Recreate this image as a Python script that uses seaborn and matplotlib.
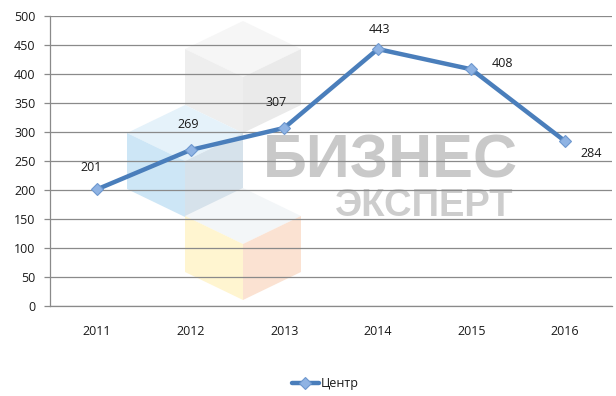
import matplotlib
matplotlib.use("Agg")
import matplotlib.pyplot as plt
import seaborn as sns
import pandas as pd
from matplotlib.patches import Polygon

# ---- data ----
years = ["2011", "2012", "2013", "2014", "2015", "2016"]
values = [201, 269, 307, 443, 408, 284]
series_name = "Центр"
y_ticks = [0, 50, 100, 150, 200, 250, 300, 350, 400, 450, 500]

# label offsets (points) per data label, as positioned in the reference
label_offsets = [(-4, 16), (-2, 18), (-6, 18), (1, 14), (22, 4), (19, -9)]

W, H = 616, 396
sns.set_theme(style="white")
plt.rcParams["font.family"] = ["Open Sans", "DejaVu Sans"]

fig = plt.figure(figsize=(W / 100, H / 100), dpi=100)
fig.patch.set_facecolor("white")
ax = fig.add_axes([50 / W, (H - 306) / H, (612 - 50) / W, (306 - 16) / H])
ax.set_facecolor("none")
ax.set_zorder(1)


# ---- watermark (background decoration, figure pixel coords) ----
def px(x, y):
    return (x / W, (H - y) / H)


def cube(cx, cy, top_c, left_c, right_c):
    hw, r, e = 58, 56, 28
    T = px(cx, cy - r)
    UR = px(cx + hw, cy - e)
    LR = px(cx + hw, cy + e)
    B = px(cx, cy + r)
    LL = px(cx - hw, cy + e)
    UL = px(cx - hw, cy - e)
    C = px(cx, cy)
    for pts, col in [([T, UR, C, UL], top_c), ([UL, C, B, LL], left_c), ([C, UR, LR, B], right_c)]:
        fig.patches.append(Polygon(pts, closed=True, transform=fig.transFigure,
                                   facecolor=col, edgecolor="none", zorder=-2))


cube(243, 77, "#f6f6f6", "#eeeeee", "#eaeaea")
cube(185, 161, "#e5f2fa", "#cde6f6", "#d6e2eb")
cube(243, 244, "#f3f6f8", "#fff5d0", "#fbe2d2")

fig.text(390 / W, (H - 162) / H, "БИЗНЕС", fontsize=44, fontweight="bold",
         color="#c9c9c9", ha="center", va="center", family=["Liberation Sans", "DejaVu Sans"], zorder=-1)
fig.text(424 / W, (H - 206) / H, "ЭКСПЕРТ", fontsize=27.5, fontweight="bold",
         color="#cdcdcd", ha="center", va="center", family=["Liberation Sans", "DejaVu Sans"], zorder=-1)

# ---- chart ----
df = pd.DataFrame({"year": years, "value": values, "series": series_name})
sns.lineplot(data=df, x="year", y="value", hue="series", palette=["#4a7ebb"],
             marker="D", markersize=6.5, markerfacecolor="#8fb3e3",
             markeredgecolor="#6e98cf", markeredgewidth=0.8,
             linewidth=3.2, ax=ax, zorder=5, sort=False)

FS = 9
for i, (v, off) in enumerate(zip(values, label_offsets)):
    ax.annotate(str(v), (i, v), xytext=off, textcoords="offset points",
                ha="center", va="center", fontsize=FS, color="#1a1a1a", zorder=6)

ax.set_xlim(-0.5, len(years) - 0.5)
ax.set_ylim(0, 500)
ax.set_yticks(y_ticks)
ax.set_yticklabels([str(t) for t in y_ticks])
ax.yaxis.grid(True, color="#8a8a8a", linewidth=0.9)
ax.xaxis.grid(False)
ax.set_axisbelow(True)
for s in ["top", "right"]:
    ax.spines[s].set_visible(False)
for s in ["left", "bottom"]:
    ax.spines[s].set_color("#8a8a8a")
    ax.spines[s].set_linewidth(0.9)
ax.tick_params(axis="y", which="both", left=True, length=4.5, width=0.9, color="#8a8a8a",
               labelsize=FS, labelcolor="#1a1a1a", pad=6)
ax.tick_params(axis="x", bottom=False, length=0, labelsize=FS, labelcolor="#1a1a1a", pad=14)
ax.set_xlabel("")
ax.set_ylabel("")

leg = ax.legend(loc="center", bbox_to_anchor=(325 / W, (H - 384) / H),
                bbox_transform=fig.transFigure, frameon=False, fontsize=FS,
                handlelength=2.2, handletextpad=0.1, borderaxespad=0)
for t in leg.get_texts():
    t.set_color("#1a1a1a")

fig.savefig("out.png", dpi=100, facecolor="white")
